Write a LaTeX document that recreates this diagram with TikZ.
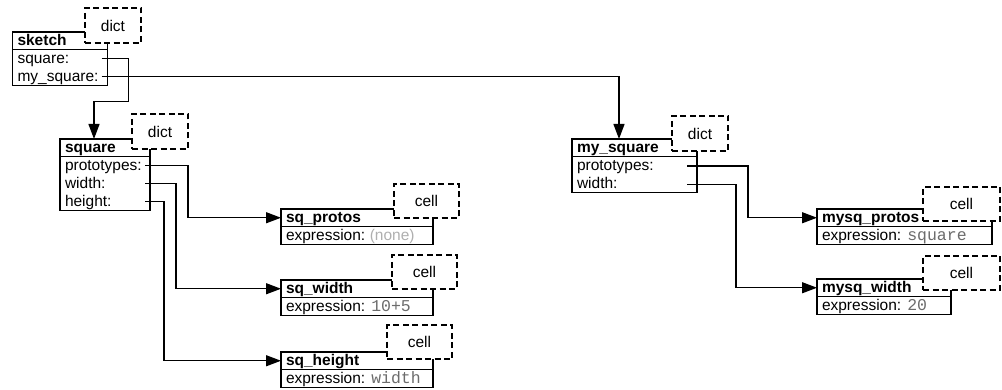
\documentclass[tikz,border=0pt]{standalone}
\usepackage{fontspec}
\setmainfont{Liberation Sans}
\setmonofont{Liberation Mono}
\usetikzlibrary{arrows.meta,calc}
\definecolor{codegray}{RGB}{108,108,108}
\definecolor{nonegray}{RGB}{175,175,175}
\newcommand\reffont{\fontsize{15.5}{18}\selectfont}
\newcommand\code[1]{{\color{codegray}\fontsize{16.5}{18}\ttfamily #1}}
\newcommand\rs{\rule[-4pt]{0pt}{18pt}}
\newcommand\hs{\rule[-4pt]{0pt}{17.5pt}}
\begin{document}
\begin{tikzpicture}[x=1pt,y=-1pt,line width=1.25pt,
  every node/.style={outer sep=0pt},
  hdr/.style={draw,anchor=north west,inner xsep=5pt,inner ysep=0pt,align=left,font=\reffont\bfseries},
  body/.style={draw,anchor=north west,inner xsep=5pt,inner ysep=0pt,align=left,font=\reffont},
  tag/.style={draw,dash pattern=on 6pt off 3.5pt,fill=white,anchor=north west,inner sep=0pt,font=\reffont},
  dicttag/.style={tag,minimum width=56pt,minimum height=35pt},
  celltag/.style={tag,minimum width=65pt,minimum height=34pt},
  arr/.style={-{Triangle[length=15pt,width=11pt]}},
]
\useasboundingbox (0,0) rectangle (1002,390);

% sketch
\node[hdr,text width=85pt] (sk) at (12.5,32) {\hs sketch};
\node[body,text width=85pt] (skb) at (sk.south west) {\rs square:\\\rs my\_square:};
\node[dicttag] (skt) at (85,8) {dict};

% square
\node[hdr,text width=80pt] (sq) at (60,139) {\hs square};
\node[body,text width=80pt] (sqb) at (sq.south west) {\rs prototypes:\\\rs width:\\\rs height:};
\node[dicttag] (sqt) at (132,114) {dict};

% my_square
\node[hdr,text width=115pt] (msq) at (572,139) {\hs my\_square};
\node[body,text width=115pt] (msqb) at (msq.south west) {\rs prototypes:\\\rs width:};
\node[dicttag] (msqt) at (672,116) {dict};

% cells of square
\node[hdr,text width=142pt] (sqp) at (281,209) {\hs sq\_protos};
\node[body,text width=142pt] (sqpb) at (sqp.south west) {\rs expression:\hspace{4.5pt}{\color{nonegray}(none)}};
\node[celltag] (sqpt) at (394,184) {cell};

\node[hdr,text width=142pt] (sqw) at (281,280) {\hs sq\_width};
\node[body,text width=142pt] (sqwb) at (sqw.south west) {\rs expression:\hspace{6pt}\code{10+5}};
\node[celltag] (sqwt) at (392,255) {cell};

\node[hdr,text width=142pt] (sqh) at (281,352) {\hs sq\_height};
\node[body,text width=142pt] (sqhb) at (sqh.south west) {\rs expression:\hspace{6pt}\code{width}};
\node[celltag] (sqht) at (387,325) {cell};

% cells of my_square
\node[hdr,text width=165pt] (mp) at (817,209) {\hs mysq\_protos};
\node[body,text width=165pt] (mpb) at (mp.south west) {\rs expression:\hspace{6pt}\code{square}};
\node[celltag,minimum width=77pt] (mpt) at (923,187) {cell};

\node[hdr,text width=124pt] (mw) at (817,279) {\hs mysq\_width};
\node[body,text width=124pt] (mwb) at (mw.south west) {\rs expression:\hspace{6pt}\code{20}};
\node[celltag,minimum width=77pt] (mwt) at (923,256) {cell};

% ports and entry points
\coordinate (sk1p) at ($(skb.north east)+(-6,9)$);
\coordinate (sk2p) at ($(skb.north east)+(-6,27)$);
\coordinate (sq1p) at ($(sqb.north east)+(-5,9)$);
\coordinate (sq2p) at ($(sqb.north east)+(-5,27)$);
\coordinate (sq3p) at ($(sqb.north east)+(-5,45)$);
\coordinate (msq1p) at ($(msqb.north east)+(-10,9.5)$);
\coordinate (msq2p) at ($(msqb.north east)+(-10,28)$);
\coordinate (sqin) at ($(sq.north west)+(34,0)$);
\coordinate (msqin) at ($(msq.north west)+(47,0)$);

% connectors
\draw[arr] (sk1p) -- ++(27,0) -- ++(0,43) -| (sqin);
\draw[arr] (sk2p) -| (msqin);
\draw[arr] (sq1p) -- ++(43,0) |- (sqp.west);
\draw[arr] (sq2p) -- ++(31,0) |- (sqw.west);
\draw[arr] (sq3p) -- ++(19,0) |- (sqh.west);
\draw[arr] (msq1p) -- ++(61,0) |- (mp.west);
\draw[arr] (msq2p) -- ++(49,0) |- (mw.west);
\end{tikzpicture}
\end{document}
